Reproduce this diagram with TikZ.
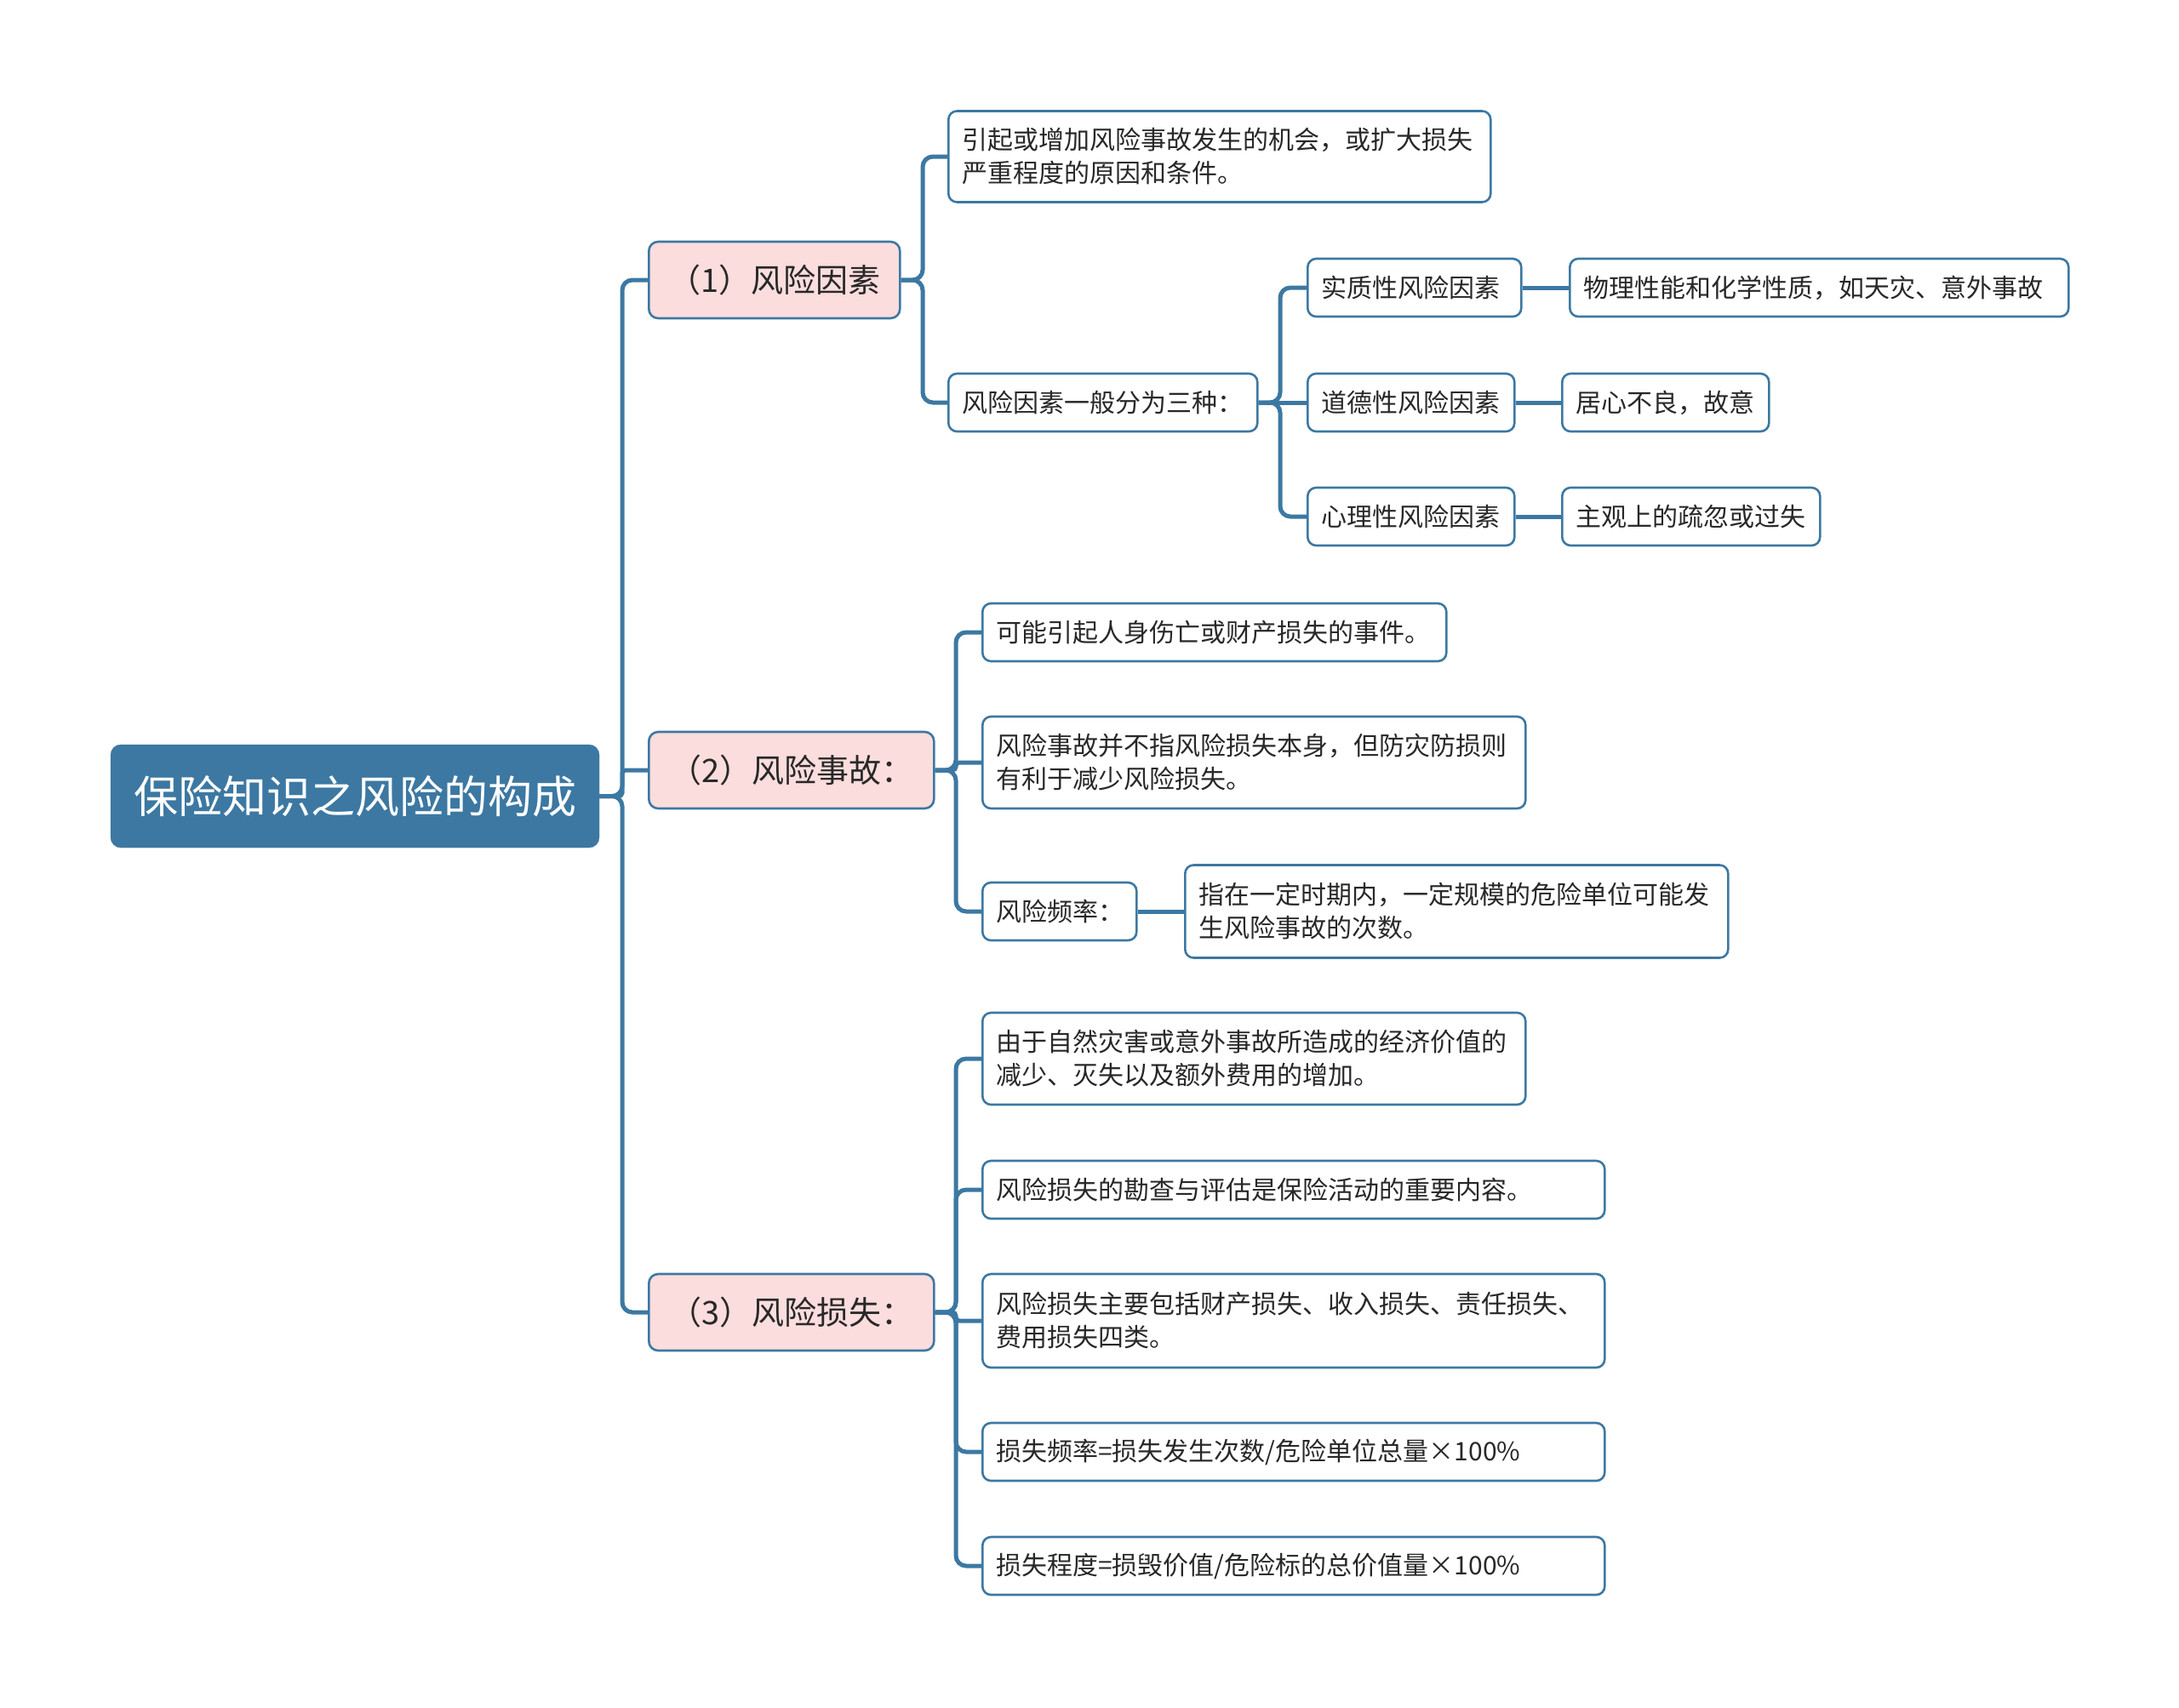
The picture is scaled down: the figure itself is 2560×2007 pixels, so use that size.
\documentclass[tikz,border=0pt]{standalone}
\usepackage{fontspec}
\setmainfont{Noto Sans CJK SC}
\definecolor{mainblue}{RGB}{60,120,162}
\definecolor{pinkfill}{RGB}{252,221,221}
\definecolor{txt}{RGB}{40,40,40}
\begin{document}
\begin{tikzpicture}[x=1pt,y=-1pt,
  rootbox/.style={fill=mainblue, draw=mainblue, rounded corners=12pt, text=white,
    font=\fontsize{52pt}{60pt}\selectfont, inner sep=0pt},
  catbox/.style={fill=pinkfill, draw=mainblue, line width=2.6pt, rounded corners=11pt,
    text=txt, anchor=west, inner sep=0pt, minimum height=90pt,
    font=\fontsize{38pt}{46pt}\selectfont},
  leaf/.style={fill=white, draw=mainblue, line width=2.6pt, rounded corners=10pt,
    text=txt, anchor=west, inner xsep=16pt, inner ysep=0pt, minimum height=68pt,
    align=left, font=\fontsize{30pt}{39pt}\selectfont},
  conn/.style={draw=mainblue, line width=5pt, rounded corners=12pt},
  connsm/.style={draw=mainblue, line width=5pt, rounded corners=4pt}]
\useasboundingbox (0,0) rectangle (2560,2007);

% root and categories
\node[rootbox, minimum width=574pt, minimum height=121pt] (root) at (417,935.5) {保险知识之风险的构成};
\node[catbox, minimum width=295pt] (l1) at (761,329) {（1）风险因素};
\node[catbox, minimum width=335pt] (l2) at (761,905) {（2）风险事故：};
\node[catbox, minimum width=335pt] (l3) at (761,1542) {（3）风险损失：};

% branch 1
\node[leaf, text width=605pt, minimum height=107pt] (a1) at (1113,184) {引起或增加风险事故发生的机会，或扩大损失\\严重程度的原因和条件。};
\node[leaf, text width=331pt] (a2) at (1113,473) {风险因素一般分为三种：};
\node[leaf, text width=219pt] (b1) at (1535,338) {实质性风险因素};
\node[leaf, text width=211pt] (b2) at (1535,473) {道德性风险因素};
\node[leaf, text width=211pt] (b3) at (1535,607) {心理性风险因素};
\node[leaf, text width=554pt] (c1) at (1843,338) {物理性能和化学性质，如天灾、意外事故};
\node[leaf, text width=211pt] (c2) at (1834,473) {居心不良，故意};
\node[leaf, text width=271pt] (c3) at (1834,607) {主观上的疏忽或过失};

% branch 2
\node[leaf, text width=513pt] (d1) at (1153,743) {可能引起人身伤亡或财产损失的事件。};
\node[leaf, text width=606pt, minimum height=108pt] (d2) at (1153,896) {风险事故并不指风险损失本身，但防灾防损则\\有利于减少风险损失。};
\node[leaf, text width=149pt] (d3) at (1153,1071) {风险频率：};
\node[leaf, text width=606pt, minimum height=109pt] (d4) at (1391,1071) {指在一定时期内，一定规模的危险单位可能发\\生风险事故的次数。};

% branch 3
\node[leaf, text width=606pt, minimum height=108pt] (e1) at (1153,1244) {由于自然灾害或意外事故所造成的经济价值的\\减少、灭失以及额外费用的增加。};
\node[leaf, text width=699pt] (e2) at (1153,1398) {风险损失的勘查与评估是保险活动的重要内容。};
\node[leaf, text width=699pt, minimum height=110pt] (e3) at (1153,1552) {风险损失主要包括财产损失、收入损失、责任损失、\\费用损失四类。};
\node[leaf, text width=699pt] (e4) at (1153,1706) {损失频率=损失发生次数/危险单位总量×100\%};
\node[leaf, text width=699pt] (e5) at (1153,1840) {损失程度=损毁价值/危险标的总价值量×100\%};

% trunk coordinates
\coordinate (t0) at (731,0);
\coordinate (t1) at (1084,0);
\coordinate (t2) at (1504,0);
\coordinate (t3) at (1123,0);

% connectors
\draw[conn] (root.east) -- (root.east -| t0) |- (l1.west);
\draw[connsm] (root.east) -- (root.east -| t0) |- (l2.west);
\draw[conn] (root.east) -- (root.east -| t0) |- (l3.west);

\draw[conn] (l1.east) -- (l1.east -| t1) |- (a1.west);
\draw[conn] (l1.east) -- (l1.east -| t1) |- (a2.west);

\draw[conn] (a2.east) -- (a2.east -| t2) |- (b1.west);
\draw[conn] (a2.east) -- (b2.west);
\draw[conn] (a2.east) -- (a2.east -| t2) |- (b3.west);
\draw[conn] (b1.east) -- (c1.west);
\draw[conn] (b2.east) -- (c2.west);
\draw[conn] (b3.east) -- (c3.west);

\draw[conn] (l2.east) -- (l2.east -| t3) |- (d1.west);
\draw[connsm] (l2.east) -- (l2.east -| t3) |- (d2.west);
\draw[conn] (l2.east) -- (l2.east -| t3) |- (d3.west);
\draw[conn] (d3.east) -- (d4.west);

\draw[conn] (l3.east) -- (l3.east -| t3) |- (e1.west);
\draw[conn] (l3.east) -- (l3.east -| t3) |- (e2.west);
\draw[connsm] (l3.east) -- (l3.east -| t3) |- (e3.west);
\draw[conn] (l3.east) -- (l3.east -| t3) |- (e4.west);
\draw[conn] (l3.east) -- (l3.east -| t3) |- (e5.west);
\end{tikzpicture}
\end{document}
